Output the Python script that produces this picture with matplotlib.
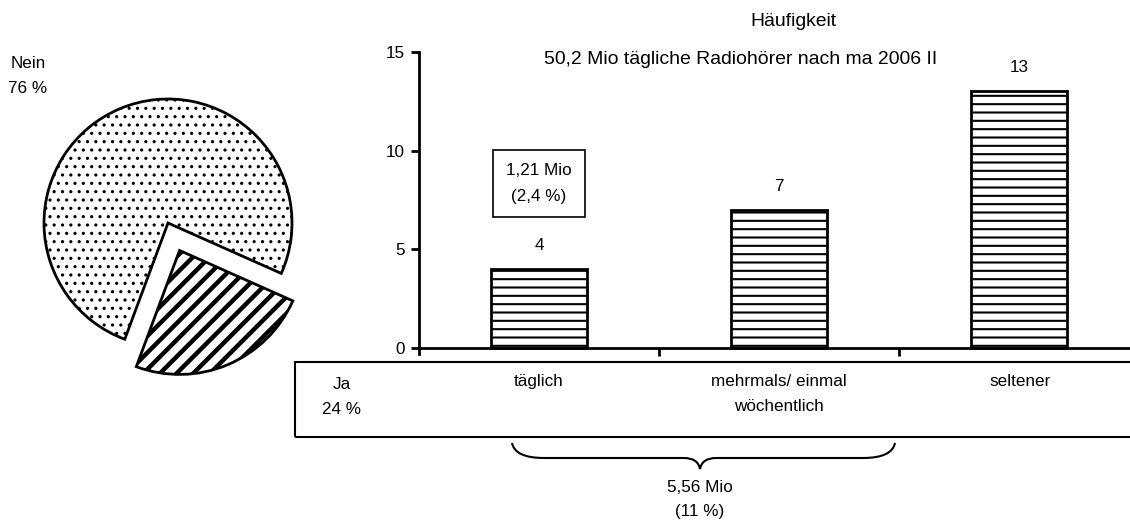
import matplotlib
matplotlib.use('Agg')
import matplotlib.pyplot as plt
from matplotlib import font_manager
from matplotlib.patches import Rectangle, PathPatch
from matplotlib.path import Path

# the original uses a condensed Arial; fall back to the normal width if no narrow face
installed = {f.name for f in font_manager.fontManager.ttflist}
if 'Liberation Sans Narrow' in installed:
    plt.rcParams['font.family'] = ['Liberation Sans Narrow', 'DejaVu Sans']
    k = 1.0
else:
    plt.rcParams['font.family'] = ['Liberation Sans', 'DejaVu Sans']
    k = 0.82
FS = 15 * k      # most texts
FS_T = 17 * k    # the two headings
LS = 1.35 / k ** 1.6
plt.rcParams['font.size'] = FS

# data
categories = ['täglich', 'mehrmals/ einmal\nwöchentlich', 'seltener']
values = [4, 7, 13]
pie_labels = ['Ja\n24 %', 'Nein\n76 %']
pie_shares = [24, 76]
y_ticks = [0, 5, 10, 15]

W, H = 1130, 522
fig = plt.figure(figsize=(W / 100, H / 100), dpi=100)

def fx(px):
    return px / W

def fy(py):
    return 1 - py / H

# ---- pie on the left
R = 124
cx, cy = 168, 223
half = 1.3 * R
axp = fig.add_axes([fx(cx - half), fy(cy + half), 2 * half / W, 2 * half / H])
wedges, _ = axp.pie(pie_shares, startangle=-110.4, counterclock=True,
                    explode=[0.24, 0], colors=['white', 'white'],
                    wedgeprops=dict(edgecolor='black', linewidth=2))
wedges[0].set_hatch('//')
wedges[1].set_hatch('..')
for w in wedges:
    if hasattr(w, 'set_hatch_linewidth'):
        w.set_hatch_linewidth(3.2 if w is wedges[0] else 1.1)
axp.set_xlim(-1.3, 1.3)
axp.set_ylim(-1.3, 1.3)
axp.set_aspect('equal')
axp.axis('off')

fig.text(fx(28), fy(76), pie_labels[1], ha='center', va='center', linespacing=LS)

# ---- bar chart
x0, x1 = 419, W
y_top, y_bot = 52, 354
ax = fig.add_axes([fx(x0), fy(y_bot), (x1 - x0) / W, (y_bot - y_top) / H])
xs = list(range(len(values)))
bars = ax.bar(xs, values, width=0.4, color='white', edgecolor='black',
              linewidth=2, hatch='--')
for b in bars:
    if hasattr(b, 'set_hatch_linewidth'):
        b.set_hatch_linewidth(1.5)
for x, v in zip(xs, values):
    ax.text(x, v + 1.2, str(v), ha='center', va='center')

ax.set_xlim(-0.5, (x1 - x0) / 240 - 0.5)
ax.set_ylim(-0.3, 15)
ax.set_yticks(y_ticks)
ax.set_xticks([0.5, 1.5])
ax.set_xticklabels([])
ax.spines['top'].set_visible(False)
ax.spines['right'].set_visible(False)
ax.spines['bottom'].set_position(('data', 0))
ax.spines['left'].set_linewidth(2)
ax.spines['bottom'].set_linewidth(2)
ax.tick_params(axis='y', length=6, width=2, direction='out', pad=4)
ax.tick_params(axis='x', length=6, width=2, direction='out')
ax.patch.set_visible(False)

# note box over the first bar
ax.text(0, 8.35, '1,21 Mio\n(2,4 %)', ha='center', va='center', linespacing=LS * 1.05,
        bbox=dict(boxstyle='square,pad=0.75', fc='white', ec='black', lw=1.2))

fig.text(fx(793), fy(21), 'Häufigkeit', ha='center', va='center', fontsize=FS_T)
fig.text(fx(741), fy(59), '50,2 Mio tägliche Radiohörer nach ma 2006 II',
         ha='center', va='center', fontsize=FS_T)

# ---- category box below
fig.patches.append(Rectangle((fx(295), fy(437)), fx(W + 10 - 295), (437 - 362) / H,
                             transform=fig.transFigure, fill=False,
                             edgecolor='black', linewidth=1.5))
fig.text(fx(342), fy(397), pie_labels[0], ha='center', va='center', linespacing=LS)
cat_px = [539, 779, 1020]
for px, lab in zip(cat_px, categories):
    fig.text(fx(px), fy(374), lab, ha='center', va='top', linespacing=LS)

# ---- brace under the first two categories
bl, br, btop, bmid, btip = 512, 895, 443, 458, 469
mx = 700
pts = [(bl, btop), (bl + 3, bmid), (bl + 32, bmid), (mx - 16, bmid),
       (mx - 2, bmid), (mx, btip), (mx + 2, bmid), (mx + 16, bmid),
       (br - 32, bmid), (br - 3, bmid), (br, btop)]
codes = [Path.MOVETO, Path.CURVE3, Path.CURVE3, Path.LINETO,
         Path.CURVE3, Path.CURVE3, Path.CURVE3, Path.CURVE3,
         Path.LINETO, Path.CURVE3, Path.CURVE3]
brace = Path([(fx(x), fy(y)) for x, y in pts], codes)
fig.patches.append(PathPatch(brace, transform=fig.transFigure, fill=False,
                             edgecolor='black', linewidth=1.5))
fig.text(fx(mx), fy(480), '5,56 Mio\n(11 %)', ha='center', va='top', linespacing=LS * 0.95)

fig.savefig('out.png', dpi=100)
